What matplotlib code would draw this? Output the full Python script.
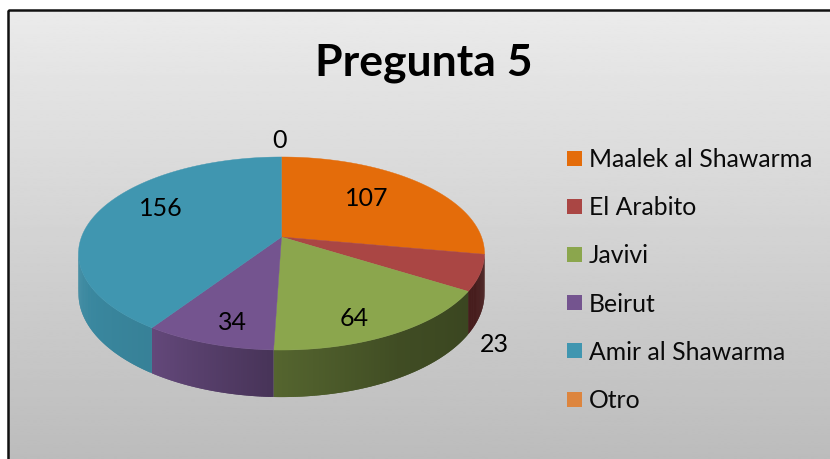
import numpy as np
import matplotlib
matplotlib.use("Agg")
import matplotlib.pyplot as plt
from matplotlib.collections import PolyCollection
from matplotlib.patches import Rectangle, Polygon

title = "Pregunta 5"
categories = ["Maalek al Shawarma", "El Arabito", "Javivi", "Beirut", "Amir al Shawarma", "Otro"]
values = [107, 23, 64, 34, 156, 0]
colors = ["#e46c0a", "#aa4644", "#8ba64d", "#74548f", "#4096b0", "#dd853e"]
label_pos = [(367, 199), (494, 345), (354, 318), (232, 322), (161, 209), (279, 141)]

plt.rcParams["font.family"] = ["Lato", "DejaVu Sans"]
W, H = 830, 459
fig = plt.figure(figsize=(W / 100, H / 100), dpi=100)
ax = fig.add_axes([0, 0, 1, 1])
ax.set_xlim(0, W)
ax.set_ylim(H, 0)
ax.axis("off")

# chart-area background: vertical grey gradient inside a black frame
grad = np.linspace(0.92, 0.735, 256).reshape(-1, 1)
ax.imshow(grad, cmap="gray", vmin=0, vmax=1, extent=(8, W + 5, H + 5, 10),
          aspect="auto", zorder=0, interpolation="bilinear")
ax.set_xlim(0, W)
ax.set_ylim(H, 0)
ax.add_patch(Rectangle((7.8, 9.8), W, H, fill=False, ec="#111111", lw=1.8, zorder=1))

# perspective projection of the disc
CX, CY, R, D, K, DEPTH = 281.5, 237, 200, 93.7, 0.171, 39


def project(theta):
    s = -np.cos(theta)
    w = 1 - K * s
    return CX + R * np.sin(theta) / w, CY + D * s / w, w


def wall_shade(deg):
    return np.interp(deg, [100, 122, 150, 180, 214, 270], [0.42, 0.42, 0.46, 0.6, 0.86, 0.95])


vals = np.array(values, float)
edges = np.concatenate([[0], np.cumsum(vals)]) / vals.sum() * 360

# side walls, front half only; each strip overlaps the next one to hide seams
for v, c, a0, a1 in zip(vals, colors, edges[:-1], edges[1:]):
    if v == 0:
        continue
    lo, hi = max(a0, 98.0), min(a1, 262.0)
    if hi <= lo:
        continue
    n = max(2, int(hi - lo) * 2)
    ts = np.linspace(lo, hi, n + 1)
    polys, fc = [], []
    base = np.array(matplotlib.colors.to_rgb(c))
    for i in range(n):
        t0, t1 = ts[i], ts[min(i + 2, n)]
        x0, y0, w0 = project(np.radians(t0))
        x1, y1, w1 = project(np.radians(t1))
        polys.append([(x0, y0), (x1, y1), (x1, y1 + DEPTH / w1), (x0, y0 + DEPTH / w0)])
        fc.append(np.clip(base * wall_shade((ts[i] + ts[i + 1]) / 2), 0, 1))
    ax.add_collection(PolyCollection(polys, facecolors=fc, edgecolors="none", zorder=2))

# top faces
for v, c, a0, a1 in zip(vals, colors, edges[:-1], edges[1:]):
    if v == 0:
        continue
    ts = np.radians(np.linspace(a0, a1, max(3, int(a1 - a0) * 2)))
    x, y, _ = project(ts)
    pts = np.column_stack([np.r_[CX, x], np.r_[CY, y]])
    ax.add_patch(Polygon(pts, closed=True, fc=c, ec=c, lw=0.3, zorder=3))

# data labels
for v, (lx, ly) in zip(values, label_pos):
    ax.text(lx, ly, str(v), ha="center", va="center", fontsize=18, color="#000000", zorder=5)

# title
ax.text(424, 63, title, ha="center", va="center", fontsize=32, fontweight="bold", color="#000000", zorder=5)

# legend
for i, (name, c) in enumerate(zip(categories, colors)):
    yy = 158 + i * 48.2
    ax.add_patch(Rectangle((567, yy - 7.5), 15, 15, fc=c, ec="none", zorder=5))
    ax.text(589, yy + 1.5, name, ha="left", va="center", fontsize=17.8, color="#0a0a0a", zorder=5)

fig.savefig("out.png", dpi=100)
